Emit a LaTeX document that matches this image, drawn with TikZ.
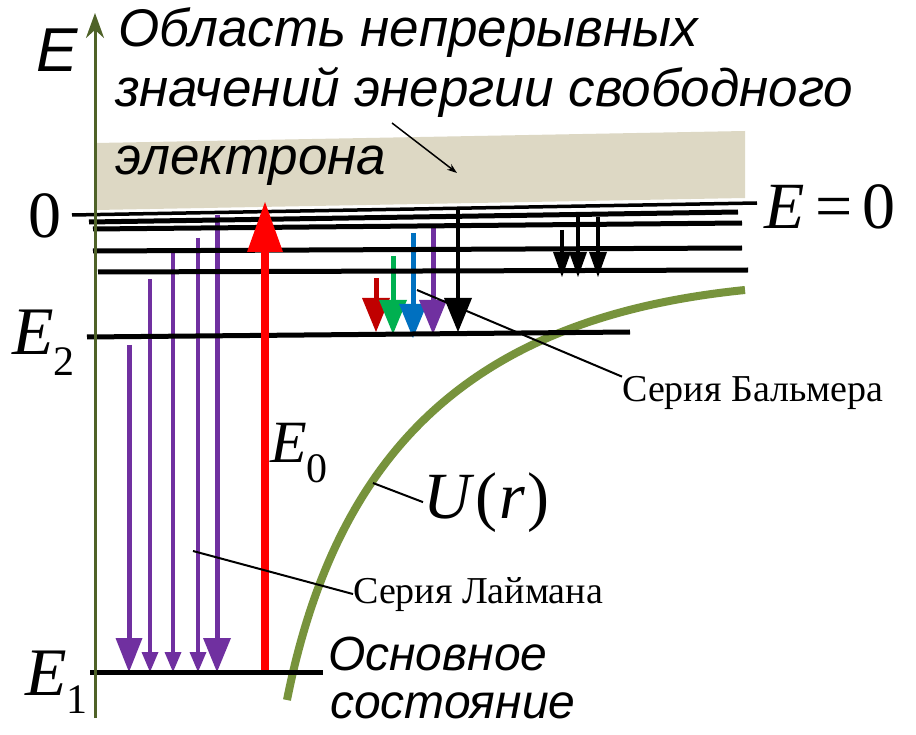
\documentclass[tikz,border=0pt]{standalone}
\usepackage{fontspec}
\setmainfont{Liberation Serif}
\newfontfamily\arialf{Liberation Sans}
\usetikzlibrary{arrows.meta}
\definecolor{axisgreen}{HTML}{4F6228}
\definecolor{curvegreen}{HTML}{77933C}
\definecolor{bandcol}{HTML}{DDD8C4}
\definecolor{lred}{HTML}{C00000}
\definecolor{lgreen}{HTML}{00B050}
\definecolor{lblue}{HTML}{0070C0}
\definecolor{lpurple}{HTML}{7030A0}
\newcommand{\fsz}[1]{\fontsize{#1}{#1}\selectfont}
% color, x, ytop, ytip, headwidth, headlen, shaftwidth
\newcommand{\myDnArrow}[7]{%
  \draw[#1, line width=#7] (#2,#3) -- (#2,#4-#6+2);
  \fill[#1] (#2-#5/2,#4-#6) -- (#2+#5/2,#4-#6) -- (#2,#4) -- cycle;}
\begin{document}
\begin{tikzpicture}[x=1pt,y=-1pt,
  lvl/.style={line width=5pt},
  lvlzero/.style={line width=3.5pt},
  leader/.style={line width=2pt},
  sanslabel/.style={font=\arialf\itshape\fsz{53}, inner sep=0pt, anchor=base west},
  seriflabel/.style={font=\fsz{38}, inner sep=0pt, anchor=base west},
  mathlabel/.style={font=\fsz{68}, inner sep=0pt, anchor=base west}]
\useasboundingbox (0,0) rectangle (916,735);
\fill[white] (0,0) rectangle (916,735);
% band of continuous energies
\fill[bandcol] (96,143) -- (745,131) -- (745,198) -- (96,210) -- cycle;
% potential curve
\draw[curvegreen, line width=8pt] (287,700) .. controls (340,434) and (489,316) .. (745,290);
% Lyman series
\myDnArrow{lpurple}{129}{345}{672}{27}{34}{5pt}
\myDnArrow{lpurple}{150}{279}{672}{17}{20}{4pt}
\myDnArrow{lpurple}{173}{253}{672}{17}{20}{4pt}
\myDnArrow{lpurple}{198}{238}{672}{17}{20}{4pt}
\myDnArrow{lpurple}{217}{215}{672}{28}{34}{5pt}
% Balmer series
\myDnArrow{lred}{376}{278}{332}{28}{34}{5pt}
\myDnArrow{lgreen}{393}{256}{334}{28}{34}{5pt}
\myDnArrow{lblue}{413}{233}{338}{28}{34}{5pt}
\myDnArrow{lpurple}{433}{228}{334}{28}{34}{5pt}
\myDnArrow{black}{458}{210}{332}{28}{34}{4pt}
% transitions between high levels
\myDnArrow{black}{562}{230}{277}{18}{25}{4pt}
\myDnArrow{black}{578}{217}{277}{18}{25}{4pt}
\myDnArrow{black}{598}{217}{277}{18}{25}{4pt}
% energy levels
\draw[lvlzero] (72,215) -- (757,203);
\draw[lvl] (89,222) -- (738,212);
\draw[lvl] (93,229) -- (742,223);
\draw[lvl] (93,251) -- (742,248);
\draw[lvl] (98,272) -- (748,270);
\draw[lvl] (87,337) -- (630,332);
\draw[lvl] (90,672) -- (323,672);
% ionisation arrow
\draw[red, line width=8pt] (265,670) -- (265,250);
\fill[red] (247,252) -- (283,252) -- (265,202) -- cycle;
% axis
\draw[axisgreen, line width=3pt, -{Stealth[length=25pt,width=18pt]}] (95,718) -- (95,13);
% labels
\node[font=\arialf\itshape\fsz{62}, inner sep=0pt, anchor=base west] (elab) at (36,72) {E};
\node[sanslabel] (t1) at (118,47) {Область непрерывных};
\node[sanslabel] (t2) at (115,107) {значений энергии свободного};
\node[sanslabel] (t3) at (115,175) {электрона};
\coordinate (bandpt) at (457,173);
\coordinate (bandstart) at (392,123);
\draw[line width=1.5pt, -{Stealth[length=10pt,width=7pt]}] (bandstart) -- (bandpt);
\node[font=\fsz{66}, inner sep=0pt, anchor=base west] (zero) at (28,238) {0};
\node[font=\fsz{66}, inner sep=0pt, anchor=base west] (ezero) at (764,229) {\itshape E\upshape\kern11pt=\kern10pt0};
\node[mathlabel] (e2) at (12,355) {\itshape E\upshape\raisebox{-21pt}{\fsz{42}2}};
\node[font=\fsz{60}, inner sep=0pt, anchor=base west] (e0) at (270,462) {\itshape E\upshape\raisebox{-20pt}{\fsz{42}0}};
\node[mathlabel] (e1) at (25,695) {\itshape E\upshape\raisebox{-18pt}{\fsz{42}1}};
\node[font=\fsz{66}, inner sep=0pt, anchor=base west] (ur) at (423,518) {\itshape U\upshape\kern5pt(\kern2pt\itshape r\upshape\kern2pt)};
\node[seriflabel] (balmer) at (622,402) {Серия Бальмера};
\node[seriflabel] (lyman) at (353,603) {Серия Лаймана};
\node[sanslabel, font=\arialf\itshape\fsz{48}] (ground1) at (328,670) {Основное};
\node[sanslabel, font=\arialf\itshape\fsz{48}] (ground2) at (330,718) {состояние};
% leaders
\coordinate (balmerpt) at (417,290);
\coordinate (lymanpt) at (193,551);
\coordinate (urpt) at (373,483);
\draw[leader] (balmerpt) -- (balmer.north west);
\draw[leader] (lymanpt) -- (lyman.west);
\draw[leader] (urpt) -- (ur.west);
\end{tikzpicture}
\end{document}
